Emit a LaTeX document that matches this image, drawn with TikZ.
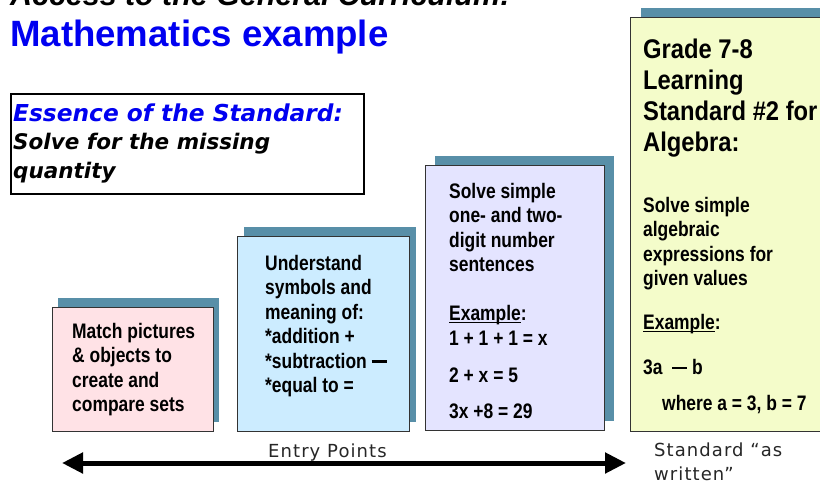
\documentclass[tikz,border=0pt]{standalone}
\usepackage{fontspec}
\setmainfont{Liberation Sans}
\newfontfamily\titlefont{Liberation Sans}
\newfontfamily\cardfont[FakeStretch=0.83]{Liberation Sans}
\newfontfamily\headfont[FakeStretch=0.88]{Liberation Sans}
\newfontfamily\essfont{DejaVu Sans}
\newfontfamily\axisfont[LetterSpace=6]{DejaVu Sans}
\usetikzlibrary{shadows, arrows.meta, positioning}

\definecolor{shadowblue}{RGB}{88,143,168}
\definecolor{cardpink}{RGB}{255,226,230}
\definecolor{cardblue}{RGB}{204,236,255}
\definecolor{cardlilac}{RGB}{228,228,255}
\definecolor{cardyellow}{RGB}{244,252,202}
\definecolor{titleblue}{RGB}{0,0,240}

\newcommand\exword{\underline{\smash{Example}}}
\newcommand\minusbar{\rule[5.5pt]{15pt}{2.6pt}}

\begin{document}
\begin{tikzpicture}[
        x=1pt, y=-1pt,
        card/.style={draw=black!80, line width=0.8pt, anchor=north west, inner sep=0pt,
            drop shadow={shadow xshift=#1, shadow yshift=9pt, fill=shadowblue, opacity=1}},
        cardtext/.style={anchor=north west, inner sep=0pt, align=left,
            font=\cardfont\bfseries\fontsize{21}{24.5}\selectfont},
        headtext/.style={anchor=north west, inner sep=0pt, align=left,
            font=\headfont\bfseries\fontsize{27}{31}\selectfont},
        essbox/.style={draw=black, line width=1.6pt, anchor=north west, inner sep=0pt},
        axislabel/.style={inner sep=0pt, text=black!85, font=\axisfont\fontsize{18}{24}\selectfont}
    ]
    \clip (0,0) rectangle (820,483);

    % ==========================================
    % Headings
    % ==========================================
    \node[anchor=base west, inner sep=0pt, font=\titlefont\bfseries\itshape\fontsize{30.4}{34}\selectfont]
        (kicker) at (10,5.5) {Access to the General Curriculum:};
    \node[anchor=base west, inner sep=0pt, text=titleblue, font=\titlefont\bfseries\fontsize{36.6}{40}\selectfont]
        (title) at (10,46) {Mathematics example};

    % Essence box
    \node[essbox, minimum width=353pt, minimum height=100pt] (essence) at (10,93) {};
    \node[anchor=north west, inner sep=0pt, align=left, font=\essfont\bfseries\itshape\fontsize{21.5}{28.5}\selectfont]
        (essence-text) at (13,103.5) {{\color{titleblue}\fontsize{23.3}{28.5}\selectfont Essence of the Standard:}\\
        Solve for the missing\\ quantity};

    % ==========================================
    % Cards (entry points to the standard)
    % ==========================================
    \node[card=6pt, fill=cardpink, minimum width=161pt, minimum height=124pt] (match) at (52,307) {};
    \node[card=7pt, fill=cardblue, minimum width=172pt, minimum height=195pt] (symbols) at (237,236) {};
    \node[card=10pt, fill=cardlilac, minimum width=179pt, minimum height=265pt] (sentences) at (425,165) {};
    \node[card=11pt, fill=cardyellow, minimum width=200pt, minimum height=414pt] (grade) at (630,17) {};

    \node[cardtext] (match-text) at (72,323) {Match pictures\\ \& objects to\\ create and\\ compare sets};
    \node[cardtext] (symbols-text) at (265,255) {Understand\\ symbols and\\ meaning of:\\
        *addition +\\ *subtraction \minusbar\\ *equal to =};
    \node[cardtext] (sentences-text) at (449,183) {Solve simple\\ one- and two-\\ digit number\\ sentences\\[24.5pt]
        \exword:\\ 1 + 1 + 1 = x\\[12.5pt] 2 + x = 5\\[11.5pt] 3x +8 = 29};
    \node[headtext] (grade-head) at (643,39) {Grade 7-8\\ Learning\\ Standard \#2 for\\ Algebra:};
    \node[cardtext] (grade-body) at (643,197) {Solve simple\\ algebraic\\ expressions for\\ given values\\[19.5pt]
        \exword:\\[20.5pt] 3a~~\minusbar~b\\[11.5pt] \hspace*{19pt}where a = 3, b = 7};

    % ==========================================
    % Axis
    % ==========================================
    \coordinate (entry-west) at (62,463);
    \coordinate (entry-east) at (626,463);
    \draw[line width=5pt, {Triangle[length=21pt,width=20pt]}-{Triangle[length=21pt,width=20pt]}]
        (entry-west) -- (entry-east);

    \node[axislabel, anchor=base west] (entry-label) at (268,457) {Entry Points};
    \node[axislabel, anchor=north west, align=left] (standard-label) at (654,442.5) {Standard “as\\ written”};

\end{tikzpicture}
\end{document}
